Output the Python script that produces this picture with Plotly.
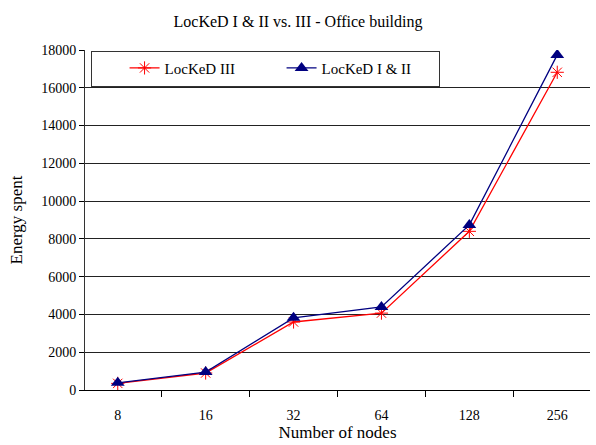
import plotly.graph_objects as go

# Network size (number of nodes) and energy spent per protocol variant
nodes = ["8", "16", "32", "64", "128", "256"]
energy_iii = [350, 900, 3600, 4070, 8400, 16820]
energy_i_ii = [380, 950, 3820, 4400, 8740, 17740]
y_ticks = list(range(0, 18001, 2000))

FONT = "Liberation Serif, Times New Roman, serif"

fig = go.Figure()
fig.add_trace(go.Scatter(
    x=nodes, y=energy_iii, name="LocKeD III", mode="lines+markers",
    line=dict(color="#ff0000", width=1.3),
    marker=dict(symbol="asterisk-open", size=11, color="#ff0000",
                line=dict(color="#ff0000", width=1)),
))
fig.add_trace(go.Scatter(
    x=nodes, y=energy_i_ii, name="LocKeD I & II", mode="lines+markers",
    line=dict(color="#000080", width=1.3),
    marker=dict(symbol="triangle-up", size=12, color="#000080"),
))

fig.update_layout(
    width=596, height=445,
    margin=dict(l=85, r=6, t=50, b=55),
    paper_bgcolor="white", plot_bgcolor="white",
    font=dict(family=FONT, size=14, color="black"),
    title=dict(text="LocKeD I & II vs. III - Office building",
               x=0.5, xanchor="center", y=0.953, yanchor="middle",
               font=dict(family=FONT, size=16, color="black")),
    showlegend=True,
    legend=dict(orientation="h", x=0.012, y=0.998, xanchor="left", yanchor="top",
                bgcolor="white", bordercolor="#333333", borderwidth=1,
                title=dict(text="\u00a0" * 5, side="left"),
                entrywidth=112, font=dict(family=FONT, size=15),
                itemwidth=30, tracegroupgap=0),
    xaxis=dict(
        type="category", title=dict(text="Number of nodes", standoff=4,
                                    font=dict(family=FONT, size=17)),
        showgrid=False, showline=True, linecolor="black", linewidth=1,
        ticks="outside", tickson="boundaries", ticklen=6, tickcolor="black",
        ticklabelstandoff=12,
        tickfont=dict(family=FONT, size=14),
    ),
    yaxis=dict(
        title=dict(text="Energy spent", standoff=14, font=dict(family=FONT, size=17)),
        range=[0, 18000], tickvals=y_ticks, ticktext=[str(v) for v in y_ticks],
        showgrid=True, gridcolor="#222222", gridwidth=1,
        showline=True, linecolor="#333333", linewidth=1,
        ticks="outside", ticklen=5, tickcolor="black",
        tickfont=dict(family=FONT, size=14), zeroline=False,
    ),
)

fig.write_html("out.html")
